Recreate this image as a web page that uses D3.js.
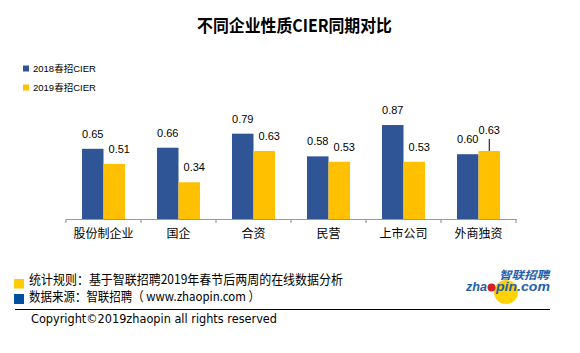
<!DOCTYPE html>
<html><head><meta charset="utf-8">
<script src="https://cdn.jsdelivr.net/npm/d3@7"></script>
<style>
html,body{margin:0;padding:0;background:#fff;}
svg{display:block;font-family:"Liberation Sans","Noto Sans CJK SC",sans-serif;}
</style></head>
<body><svg id="c" width="580" height="353"></svg>
<script>
const categories = ["股份制企业","国企","合资","民营","上市公司","外商独资"];
const values2018 = [0.65,0.66,0.79,0.58,0.87,0.60];
const values2019 = [0.51,0.34,0.63,0.53,0.53,0.63];
const seriesNames = ["2018春招CIER","2019春招CIER"];
const colors = ["#2F5597","#FFC000"];
const title = "不同企业性质CIER同期对比";
const noteRule = "统计规则：基于智联招聘2019年春节后两周的在线数据分析";
const noteSource = "数据来源：智联招聘（ www.zhaopin.com ）";
const copyright = "Copyright©2019zhaopin all rights reserved";

const svg = d3.select("#c");
const x = d3.scaleBand().domain(categories).range([66,516]).padding(0);
const y = d3.scaleLinear().domain([0,1]).range([219,111]);
const barW = 21.5;

// title
svg.append("text").attr("x",197).attr("y",31.5)
  .attr("font-size",17.5).attr("font-weight","bold").attr("font-family","'Noto Sans CJK SC',sans-serif")
  .attr("textLength",195).attr("lengthAdjust","spacingAndGlyphs")
  .attr("fill","#000").text(title);

// legend
seriesNames.forEach((n,i)=>{
  const ly = 69 + i*19;
  svg.append("rect").attr("x",23).attr("y",ly-3.5).attr("width",6).attr("height",6).attr("fill",colors[i]);
  svg.append("text").attr("x",33).attr("y",ly+3.3).attr("font-size",9.5).attr("fill","#000").text(n);
});

// bars
const data = categories.map((c,i)=>({c, v:[values2018[i],values2019[i]]}));
const g = svg.append("g");
data.forEach(d=>{
  const cx = x(d.c)+x.bandwidth()/2;
  d.v.forEach((v,k)=>{
    const bx = k===0 ? cx-barW : cx;
    g.append("rect").attr("x",bx).attr("y",y(v)).attr("width",barW).attr("height",y(0)-y(v)).attr("fill",colors[k]);
    const special = (k===1 && d.c==="外商独资");
    const lx = bx + barW/2 + (k===1 && !special ? 5 : 0);
    const ly = special ? y(v)-17 : y(v)-11;
    g.append("text").attr("x",lx).attr("y",ly).attr("text-anchor","middle").attr("font-size",11)
      .attr("fill","#000").text(v.toFixed(2));
    if(special){
      g.append("line").attr("x1",bx+barW/2).attr("x2",bx+barW/2).attr("y1",y(v)-12).attr("y2",y(v))
        .attr("stroke","#000").attr("stroke-width",1);
    }
  });
});

// axis
const ax = svg.append("g").attr("transform","translate(0,219)")
  .call(d3.axisBottom(x).tickSize(0).tickPadding(10));
ax.select(".domain").attr("stroke","#999").attr("stroke-width",1.2);
ax.selectAll(".tick text").attr("font-size",12).attr("fill","#000")
  .attr("font-family","'Noto Sans CJK SC',sans-serif");
const bounds = categories.map(c=>x(c)).concat([x.range()[1]]);
ax.selectAll(".bt").data(bounds).enter().append("line").attr("class","bt")
  .attr("x1",d=>d).attr("x2",d=>d).attr("y1",0).attr("y2",4).attr("stroke","#999").attr("stroke-width",1.2);

// footer notes
svg.append("rect").attr("x",14).attr("y",279).attr("width",10).attr("height",9.5).attr("fill","#FFCC00");
svg.append("rect").attr("x",14).attr("y",294).attr("width",10).attr("height",10).attr("fill","#0050A0");
svg.append("text").attr("x",29).attr("y",283.5).attr("font-size",13).attr("fill","#000")
  .attr("font-family","'Noto Sans CJK SC',sans-serif")
  .attr("textLength",314).attr("lengthAdjust","spacingAndGlyphs").text(noteRule);
svg.append("text").attr("x",29).attr("y",301).attr("font-size",13).attr("fill","#000")
  .attr("font-family","'Noto Sans CJK SC',sans-serif")
  .attr("textLength",231).attr("lengthAdjust","spacingAndGlyphs").text(noteSource);
svg.append("line").attr("x1",15).attr("x2",550).attr("y1",309.5).attr("y2",309.5).attr("stroke","#000").attr("stroke-width",1);
svg.append("text").attr("x",31).attr("y",322.5).attr("font-size",12.5).attr("fill","#000")
  .attr("font-family","'DejaVu Sans',sans-serif")
  .attr("textLength",246).attr("lengthAdjust","spacingAndGlyphs").text(copyright);

// logo
svg.append("circle").attr("cx",506).attr("cy",292).attr("r",12).attr("fill","#FFD200");
svg.append("text").attr("x",499).attr("y",278.5).attr("font-size",11).attr("font-weight","bold")
  .attr("font-style","italic").attr("fill","#1F5FAE").attr("font-family","'Noto Sans CJK SC',sans-serif")
  .attr("textLength",50).attr("lengthAdjust","spacingAndGlyphs").text("智联招聘");
svg.append("text").attr("x",466).attr("y",291).attr("font-size",12.5).attr("font-weight","bold")
  .attr("font-style","italic").attr("fill","#1F5FAE").attr("textLength",21).attr("lengthAdjust","spacingAndGlyphs").text("zha");
svg.append("circle").attr("cx",491.5).attr("cy",287.5).attr("r",4).attr("fill","#D42020");
svg.append("text").attr("x",496).attr("y",291).attr("font-size",12.5).attr("font-weight","bold")
  .attr("font-style","italic").attr("fill","#1F5FAE").attr("textLength",54).attr("lengthAdjust","spacingAndGlyphs").text("pin.com");
</script></body></html>
